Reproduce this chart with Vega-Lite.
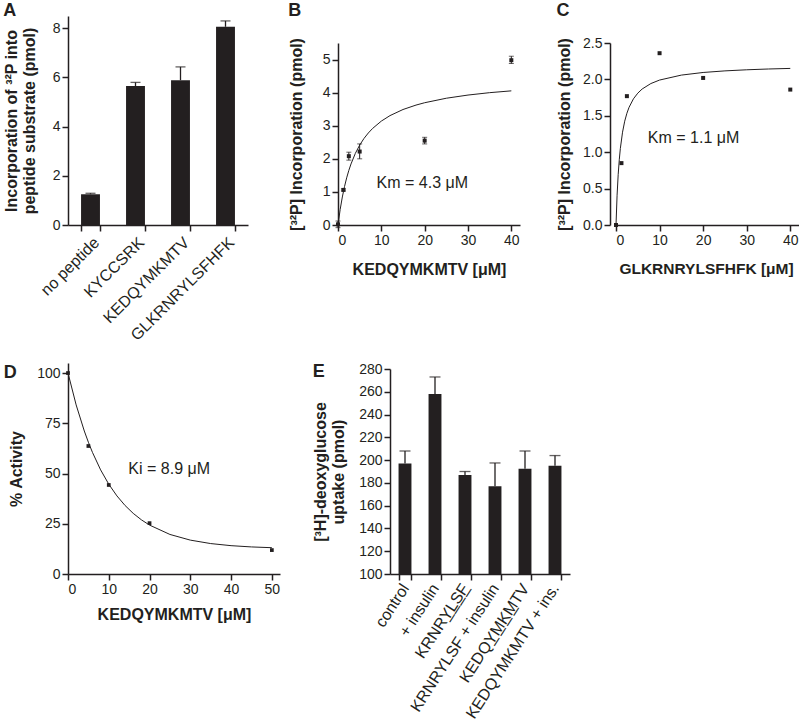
{
  "$schema": "https://vega.github.io/schema/vega-lite/v6.json",
  "padding": {"left": 3, "top": 2, "right": 0, "bottom": 0},
  "background": "white",
  "config": {
    "font": "Liberation Sans",
    "view": {"stroke": null},
    "axis": {
      "domainColor": "#231f20", "tickColor": "#231f20", "labelColor": "#231f20", "titleColor": "#231f20",
      "labelFont": "Liberation Sans", "titleFont": "Liberation Sans",
      "labelFontSize": 14, "titleFontSize": 16, "titleFontWeight": "bold",
      "tickSize": 6, "domainWidth": 1.5, "tickWidth": 1.5, "grid": false, "labelPadding": 2,
      "labelOverlap": false
    },
    "title": {"anchor": "start", "frame": "bounds", "fontSize": 18, "fontWeight": "bold", "font": "Liberation Sans", "color": "#231f20", "baseline": "alphabetic", "offset": -4}
  },
  "datasets": {
    "a": [
      {"peptide": "no peptide", "mean": 1.25, "upper": 1.29},
      {"peptide": "KYCCSRK", "mean": 5.65, "upper": 5.8},
      {"peptide": "KEDQYMKMTV", "mean": 5.89, "upper": 6.43},
      {"peptide": "GLKRNRYLSFHFK", "mean": 8.06, "upper": 8.3}
    ],
    "b_points": [
      {"conc": 0, "value": 0.02, "lo": -0.08, "hi": 0.12},
      {"conc": 1.25, "value": 1.06, "lo": 1.03, "hi": 1.09},
      {"conc": 2.5, "value": 2.08, "lo": 1.96, "hi": 2.2},
      {"conc": 5, "value": 2.22, "lo": 2.0, "hi": 2.45},
      {"conc": 20, "value": 2.55, "lo": 2.45, "hi": 2.65},
      {"conc": 40, "value": 4.98, "lo": 4.88, "hi": 5.1}
    ],
    "b_curve": [
      {"x": 0, "y": 0}, {"x": 0.5, "y": 0.468}, {"x": 1, "y": 0.847}, {"x": 1.5, "y": 1.161},
      {"x": 2, "y": 1.425}, {"x": 2.5, "y": 1.651}, {"x": 3, "y": 1.845}, {"x": 4, "y": 2.164},
      {"x": 5, "y": 2.414}, {"x": 6, "y": 2.616}, {"x": 7, "y": 2.781}, {"x": 8, "y": 2.92},
      {"x": 10, "y": 3.14}, {"x": 12, "y": 3.306}, {"x": 15, "y": 3.49}, {"x": 18, "y": 3.624},
      {"x": 20, "y": 3.695}, {"x": 25, "y": 3.831}, {"x": 30, "y": 3.927}, {"x": 35, "y": 3.999},
      {"x": 40, "y": 4.054}
    ],
    "b_text": [{"x": 8.9, "y": 1.28, "label": "Km = 4.3 μM"}],
    "c_points": [
      {"conc": 0, "value": 0.0},
      {"conc": 1.25, "value": 0.85},
      {"conc": 2.5, "value": 1.77},
      {"conc": 10, "value": 2.36},
      {"conc": 20, "value": 2.02},
      {"conc": 40, "value": 1.86}
    ],
    "c_curve": [
      {"x": 0, "y": 0}, {"x": 0.25, "y": 0.409}, {"x": 0.5, "y": 0.691}, {"x": 0.75, "y": 0.896},
      {"x": 1, "y": 1.052}, {"x": 1.5, "y": 1.275}, {"x": 2, "y": 1.426}, {"x": 2.5, "y": 1.535},
      {"x": 3, "y": 1.617}, {"x": 4, "y": 1.733}, {"x": 5, "y": 1.811}, {"x": 6, "y": 1.868},
      {"x": 8, "y": 1.943}, {"x": 10, "y": 1.991}, {"x": 15, "y": 2.059}, {"x": 20, "y": 2.095},
      {"x": 25, "y": 2.117}, {"x": 30, "y": 2.132}, {"x": 35, "y": 2.143}, {"x": 40, "y": 2.151}
    ],
    "c_text": [{"x": 7.3, "y": 1.2, "label": "Km = 1.1 μM"}],
    "d_points": [
      {"conc": 0, "value": 100},
      {"conc": 5, "value": 63.7},
      {"conc": 10, "value": 44.3},
      {"conc": 20, "value": 25.3},
      {"conc": 50, "value": 11.9}
    ],
    "d_curve": [
      {"x": 0, "y": 100}, {"x": 2, "y": 84.14}, {"x": 4, "y": 71.15}, {"x": 5, "y": 65.57},
      {"x": 6, "y": 60.52}, {"x": 8, "y": 51.81}, {"x": 10, "y": 44.69}, {"x": 12, "y": 38.86},
      {"x": 14, "y": 34.08}, {"x": 16, "y": 30.17}, {"x": 18, "y": 26.96}, {"x": 20, "y": 24.34},
      {"x": 25, "y": 19.68}, {"x": 30, "y": 16.86}, {"x": 35, "y": 15.14}, {"x": 40, "y": 14.1},
      {"x": 45, "y": 13.47}, {"x": 50, "y": 13.09}
    ],
    "d_text": [{"x": 14.8, "y": 52.1, "label": "Ki = 8.9 μM"}],
    "e": [
      {"treatment": "control", "mean": 197, "upper": 208},
      {"treatment": "+ insulin", "mean": 258, "upper": 273},
      {"treatment": "KRNRY̲L̲S̲F̲", "mean": 187, "upper": 190},
      {"treatment": "KRNRYLSF + insulin", "mean": 177, "upper": 197.5},
      {"treatment": "KEDQY̲M̲K̲M̲TV", "mean": 192.5, "upper": 208},
      {"treatment": "KEDQYMKMTV + ins.", "mean": 195, "upper": 204}
    ]
  },
  "spacing": 18,
  "vconcat": [
    {
      "bounds": "flush",
      "spacing": 90,
      "hconcat": [
        {
          "title": {"text": "A"},
          "width": 180, "height": 209,
          "data": {"name": "a"},
          "encoding": {
            "x": {"field": "peptide", "type": "nominal", "sort": null,
              "scale": {"paddingInner": 0.58, "paddingOuter": 0.29},
              "axis": {"title": null, "labelAngle": -45, "labelFontSize": 16, "labelAlign": "right", "labelBaseline": "top", "labelPadding": 3, "tickBand": "extent", "labelOverlap": false}}
          },
          "layer": [
            {"mark": {"type": "bar", "color": "#231f20"},
              "encoding": {"y": {"field": "mean", "type": "quantitative", "scale": {"domain": [0, 8.5], "nice": false},
                "axis": {"values": [0, 2, 4, 6, 8], "title": ["Incorporation of ³²P into", "peptide substrate (pmol)"], "titlePadding": 15}}}},
            {"mark": {"type": "rule", "color": "#231f20", "strokeWidth": 1.3},
              "encoding": {"y": {"field": "mean", "type": "quantitative"}, "y2": {"field": "upper"}}},
            {"mark": {"type": "tick", "orient": "horizontal", "color": "#231f20", "size": 10, "thickness": 1.3},
              "encoding": {"y": {"field": "upper", "type": "quantitative"}}}
          ]
        },
        {
          "title": {"text": "B"},
          "width": 182, "height": 209,
          "layer": [
            {"data": {"name": "b_curve"}, "mark": {"type": "line", "color": "#231f20", "strokeWidth": 1},
              "encoding": {
                "x": {"field": "x", "type": "quantitative", "scale": {"domain": [0, 42], "nice": false},
                  "axis": {"values": [0, 10, 20, 30, 40], "title": "KEDQYMKMTV [μM]", "titlePadding": 14}},
                "y": {"field": "y", "type": "quantitative", "scale": {"domain": [0, 5.5], "range": [209, 27], "nice": false},
                  "axis": {"values": [0, 1, 2, 3, 4, 5], "title": "[³²P] Incorporation (pmol)", "titlePadding": 18}}
              }},
            {"data": {"name": "b_points"}, "mark": {"type": "rule", "color": "#231f20", "strokeWidth": 1},
              "encoding": {"x": {"field": "conc", "type": "quantitative"}, "y": {"field": "lo", "type": "quantitative"}, "y2": {"field": "hi"}}},
            {"data": {"name": "b_points"}, "mark": {"type": "tick", "orient": "horizontal", "color": "#231f20", "size": 5, "thickness": 1},
              "encoding": {"x": {"field": "conc", "type": "quantitative"}, "y": {"field": "lo", "type": "quantitative"}}},
            {"data": {"name": "b_points"}, "mark": {"type": "tick", "orient": "horizontal", "color": "#231f20", "size": 5, "thickness": 1},
              "encoding": {"x": {"field": "conc", "type": "quantitative"}, "y": {"field": "hi", "type": "quantitative"}}},
            {"data": {"name": "b_points"}, "mark": {"type": "point", "shape": "square", "filled": true, "color": "#231f20", "size": 16, "opacity": 1},
              "encoding": {"x": {"field": "conc", "type": "quantitative"}, "y": {"field": "value", "type": "quantitative"}}},
            {"data": {"name": "b_text"}, "mark": {"type": "text", "align": "left", "baseline": "middle", "fontSize": 16, "color": "#231f20", "font": "Liberation Sans"},
              "encoding": {"x": {"field": "x", "type": "quantitative"}, "y": {"field": "y", "type": "quantitative"}, "text": {"field": "label"}}}
          ]
        },
        {
          "title": {"text": "C"},
          "width": 189, "height": 209,
          "layer": [
            {"data": {"name": "c_curve"}, "mark": {"type": "line", "color": "#231f20", "strokeWidth": 1},
              "encoding": {
                "x": {"field": "x", "type": "quantitative", "scale": {"domain": [0, 42], "range": [6, 189], "nice": false},
                  "axis": {"values": [0, 10, 20, 30, 40], "title": "GLKRNRYLSFHFK [μM]", "titleFontSize": 15.5, "titleX": 96, "titlePadding": 14}},
                "y": {"field": "y", "type": "quantitative", "scale": {"domain": [0, 2.5], "range": [209, 27], "nice": false},
                  "axis": {"values": [0, 0.5, 1, 1.5, 2, 2.5], "format": ".1f", "title": "[³²P] Incorporation (pmol)", "titlePadding": 10}}
              }},
            {"data": {"name": "c_points"}, "mark": {"type": "point", "shape": "square", "filled": true, "color": "#231f20", "size": 16, "opacity": 1},
              "encoding": {"x": {"field": "conc", "type": "quantitative"}, "y": {"field": "value", "type": "quantitative"}}},
            {"data": {"name": "c_text"}, "mark": {"type": "text", "align": "left", "baseline": "middle", "fontSize": 16, "color": "#231f20", "font": "Liberation Sans"},
              "encoding": {"x": {"field": "x", "type": "quantitative"}, "y": {"field": "y", "type": "quantitative"}, "text": {"field": "label"}}}
          ]
        }
      ]
    },
    {
      "bounds": "flush",
      "spacing": 110,
      "hconcat": [
        {
          "title": {"text": "D", "dy": 15, "dx": -5},
          "width": 212, "height": 211,
          "layer": [
            {"data": {"name": "d_curve"}, "mark": {"type": "line", "color": "#231f20", "strokeWidth": 1},
              "encoding": {
                "x": {"field": "x", "type": "quantitative", "scale": {"domain": [0, 52], "nice": false},
                  "axis": {"values": [0, 10, 20, 30, 40, 50], "title": "KEDQYMKMTV [μM]", "titlePadding": 10}},
                "y": {"field": "y", "type": "quantitative", "scale": {"domain": [0, 105], "nice": false},
                  "axis": {"values": [0, 25, 50, 75, 100], "title": "% Activity", "titlePadding": 12}}
              }},
            {"data": {"name": "d_points"}, "mark": {"type": "point", "shape": "square", "filled": true, "color": "#231f20", "size": 14, "opacity": 1},
              "encoding": {"x": {"field": "conc", "type": "quantitative"}, "y": {"field": "value", "type": "quantitative"}}},
            {"data": {"name": "d_text"}, "mark": {"type": "text", "align": "left", "baseline": "middle", "fontSize": 16, "color": "#231f20", "font": "Liberation Sans"},
              "encoding": {"x": {"field": "x", "type": "quantitative"}, "y": {"field": "y", "type": "quantitative"}, "text": {"field": "label"}}}
          ]
        },
        {
          "title": {"text": "E", "dy": 15},
          "width": 180, "height": 211,
          "data": {"name": "e"},
          "encoding": {
            "x": {"field": "treatment", "type": "nominal", "sort": null,
              "scale": {"paddingInner": 0.57, "paddingOuter": 0.285},
              "axis": {"title": null, "labelAngle": -57, "labelFontSize": 16, "labelAlign": "right", "labelBaseline": "middle", "labelPadding": 5, "tickBand": "extent", "labelOverlap": false}},
            "y": {"field": "mean", "type": "quantitative",
              "scale": {"domain": [100, 280], "range": [211, 6], "zero": false, "clamp": true, "nice": false},
              "axis": {"values": [100, 120, 140, 160, 180, 200, 220, 240, 260, 280], "labelOverlap": false, "title": ["[³H]-deoxyglucose", "uptake (pmol)"], "titlePadding": 12}}
          },
          "layer": [
            {"mark": {"type": "bar", "color": "#231f20"}},
            {"mark": {"type": "rule", "color": "#231f20", "strokeWidth": 1.3},
              "encoding": {"y2": {"field": "upper"}}},
            {"mark": {"type": "tick", "orient": "horizontal", "color": "#231f20", "size": 11, "thickness": 1.3},
              "encoding": {"y": {"field": "upper", "type": "quantitative", "axis": {"values": [100, 120, 140, 160, 180, 200, 220, 240, 260, 280], "labelOverlap": false, "title": ["[³H]-deoxyglucose", "uptake (pmol)"], "titlePadding": 12}}}}
          ]
        }
      ]
    }
  ]
}
